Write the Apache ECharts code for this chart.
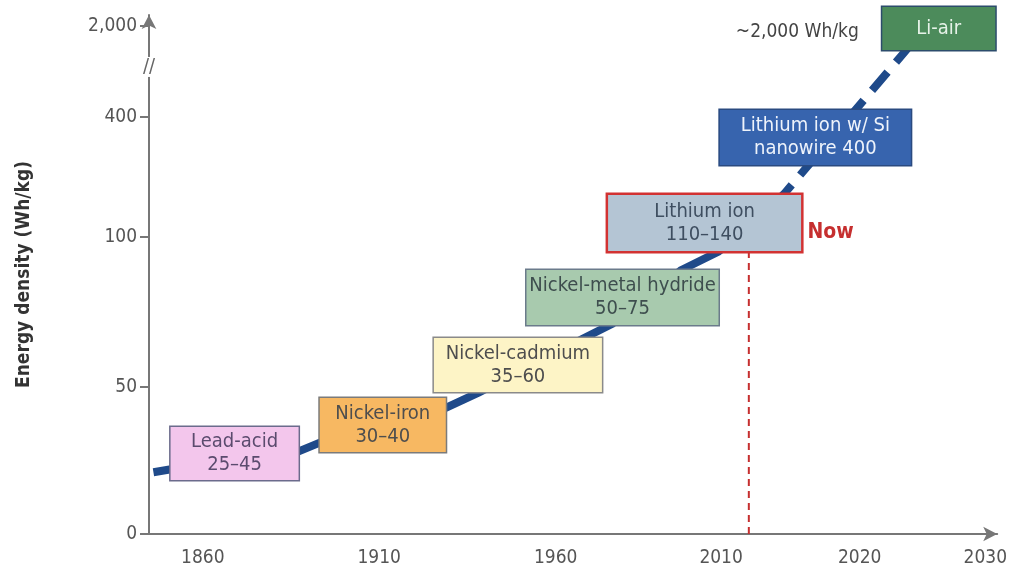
<!DOCTYPE html>
<html>
<head>
<meta charset="utf-8">
<script src="https://cdn.jsdelivr.net/npm/echarts@6/dist/echarts.min.js"></script>
<style>
  html, body { margin: 0; padding: 0; background: #fff; }
  #chart { width: 1010px; height: 576px; }
</style>
</head>
<body>
<div id="chart"></div>
<script>
// tick labels on both (broken, uneven) axes
var xTicks = [1860, 1910, 1960, 2010, 2020, 2030];
var yTicks = [0, 50, 100, 400, 2000];
var yTickLabels = ['0', '50', '100', '400', '2,000'];

// trend line (year, Wh/kg)
var solidYears = [1846, 1851, 1887, 1893, 1929, 1938, 1968, 1977, 1998, 2009, 2012];
var solidValues = [21, 22, 28, 31, 43, 48, 66, 71, 89, 95, 122];
var dashedYears = [2012, 2014.6, 2023.8];
var dashedValues = [122, 210, 1600];

// battery technologies
var techNames = ['Lead-acid', 'Nickel-iron', 'Nickel-cadmium', 'Nickel-metal hydride', 'Lithium ion', 'Lithium ion w/ Si\nnanowire', 'Li-air'];
var techRanges = ['25\u201345', '30\u201340', '35\u201360', '50\u201375', '110\u2013140', '400', ''];
var techYears = [1869, 1911, 1949.3, 1980.2, 2005, 2016.8, 2026.3];
var techValues = [27.4, 37.1, 57.3, 79.8, 135, 349, 1956];

var nowYear = 2012;
var nowTop = 110;

// layout: where each tick sits along its axis (px from 1860 / from 0)
var xTickPos = [0, 177, 354, 520, 659, 785];
var yTickPos = [0, 147, 297, 417, 508];

var boxStyle = [
    { fill: '#f3c6ec', border: '#6b6b8c', text: '#5b4b6e', w: 128, h: 53 },
    { fill: '#f7b862', border: '#7b7b7b', text: '#4e4e4e', w: 126, h: 54 },
    { fill: '#fdf4c6', border: '#8a8a8a', text: '#4e4e4e', w: 168, h: 54 },
    { fill: '#a8caae', border: '#6b7b8b', text: '#3e4e4e', w: 192, h: 55 },
    { fill: '#b4c5d4', border: '#d23232', text: '#3e4e60', w: 193, h: 56, bw: 2.5 },
    { fill: '#3764ae', border: '#2a4a80', text: '#eef3fb', w: 191, h: 55 },
    { fill: '#4c8b5b', border: '#2c4c6c', text: '#e6f2e8', w: 113, h: 43 }
];

var FONT = '"DejaVu Sans Condensed", "Liberation Sans Narrow", sans-serif';

function toPos(v, ticks, pos) {
    var i = 0;
    while (i < ticks.length - 2 && v > ticks[i + 1]) i++;
    return pos[i] + (v - ticks[i]) * (pos[i + 1] - pos[i]) / (ticks[i + 1] - ticks[i]);
}
function px(year) { return toPos(year, xTicks, xTickPos); }
function py(val) { return toPos(val, yTicks, yTickPos); }
function pt(year, val) { return [px(year), py(val)]; }

var xMin = -54, xMax = 797;
var yMin = 0, yMax = 519;

var solidData = solidYears.map(function (y, i) { return pt(y, solidValues[i]); });
var dashedData = dashedYears.map(function (y, i) { return pt(y, dashedValues[i]); });

var boxData = techNames.map(function (name, i) {
    var s = boxStyle[i];
    var txt = techRanges[i] ? name + (i === 5 ? ' ' : '\n') + techRanges[i] : name;
    var lines = txt.split('\n').length;
    var lh = 23;
    var padV = (s.h - lines * lh) / 2;
    return {
        value: pt(techYears[i], techValues[i]),
        label: {
            show: true,
            position: 'inside',
            formatter: txt,
            color: s.text,
            fontFamily: FONT,
            fontSize: 20,
            lineHeight: lh,
            align: 'center',
            verticalAlign: 'middle',
            width: s.w,
            padding: [padV, 0, padV, 0],
            backgroundColor: s.fill,
            borderColor: s.border,
            borderWidth: s.bw || 1.5
        }
    };
});

var textData = [
    {
        value: pt(2015.5, 1894),
        label: { show: true, position: 'inside', formatter: '~2,000 Wh/kg', color: '#444', fontSize: 19, fontFamily: FONT }
    },
    {
        value: pt(2017.9, 112),
        label: { show: true, position: 'inside', formatter: 'Now', color: '#c62f2f', fontSize: 21, fontWeight: 'bold', fontFamily: FONT }
    },
    {
        // axis break mark
        value: [xMin, py(1280)],
        label: { show: true, position: 'inside', formatter: '//', color: '#666', fontSize: 20, fontFamily: FONT, backgroundColor: '#fff', padding: [0, 1] }
    }
];

var chart = echarts.init(document.getElementById('chart'));

chart.setOption({
    animation: false,
    grid: { left: 149, right: 10, top: 15, bottom: 42 },
    xAxis: {
        type: 'value',
        min: xMin,
        max: xMax,
        splitLine: { show: false },
        axisLine: {
            onZero: false,
            lineStyle: { color: '#777', width: 2 },
            symbol: ['none', 'arrow'],
            symbolSize: [11, 14]
        },
        axisTick: { show: false },
        axisLabel: {
            customValues: xTickPos,
            margin: 15,
            fontSize: 19,
            color: '#555',
            fontFamily: FONT,
            formatter: function (v) {
                var i = xTickPos.indexOf(v);
                return i >= 0 ? String(xTicks[i]) : '';
            }
        }
    },
    yAxis: {
        type: 'value',
        min: yMin,
        max: yMax,
        name: 'Energy density (Wh/kg)',
        nameLocation: 'middle',
        nameRotate: 90,
        nameGap: 115,
        nameTextStyle: { fontSize: 19, fontWeight: 'bold', color: '#333', fontFamily: FONT },
        splitLine: { show: false },
        axisLine: {
            onZero: false,
            lineStyle: { color: '#777', width: 2 },
            symbol: ['none', 'arrow'],
            symbolSize: [11, 14]
        },
        axisTick: {
            customValues: yTickPos,
            length: 9,
            lineStyle: { color: '#777', width: 2 }
        },
        axisLabel: {
            customValues: yTickPos,
            margin: 12,
            fontSize: 19,
            color: '#555',
            fontFamily: FONT,
            formatter: function (v) {
                var i = yTickPos.indexOf(v);
                return i >= 0 ? yTickLabels[i] : '';
            }
        }
    },
    series: [
        {
            type: 'line',
            z: 2,
            symbol: 'none',
            data: [pt(nowYear, 0), pt(nowYear, nowTop)],
            lineStyle: { color: '#c62f2f', width: 2, type: [7, 5] }
        },
        {
            type: 'line',
            z: 3,
            symbol: 'none',
            data: solidData,
            lineStyle: { color: '#1f4a8a', width: 8, cap: 'butt' }
        },
        {
            type: 'line',
            z: 3,
            symbol: 'none',
            data: dashedData,
            lineStyle: { color: '#1f4a8a', width: 8, type: [24, 13], cap: 'butt' }
        },
        {
            type: 'scatter',
            z: 5,
            symbolSize: 1,
            itemStyle: { color: 'rgba(0,0,0,0)', opacity: 1 },
            data: boxData
        },
        {
            type: 'scatter',
            z: 6,
            symbolSize: 1,
            itemStyle: { color: 'rgba(0,0,0,0)', opacity: 1 },
            data: textData
        }
    ]
});
</script>
</body>
</html>
